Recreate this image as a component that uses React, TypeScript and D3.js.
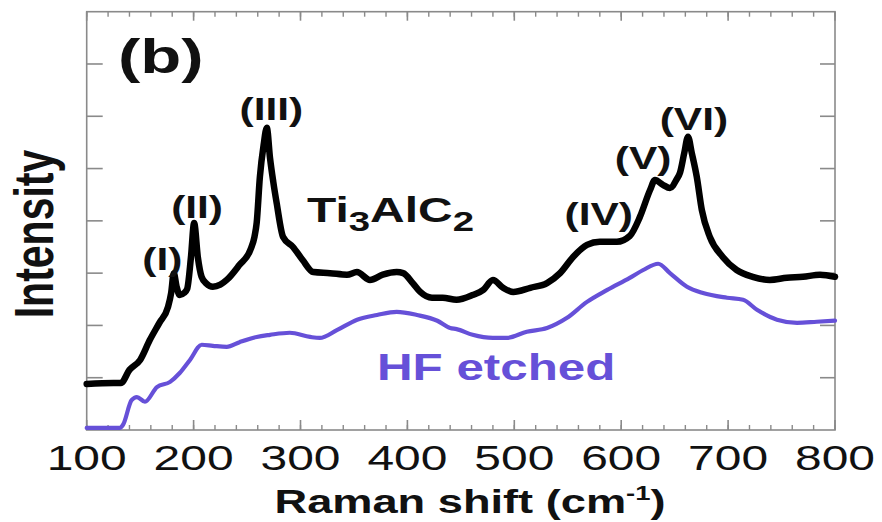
import React from "react";
import * as d3 from "d3";

// Raman spectrum of pristine Ti3AlC2 (black trace)
const shiftTiAlC = [
  100, 125, 132, 140, 150, 159, 168, 176, 179, 181.5, 184, 187, 191, 194, 197.5, 200.5, 204, 207.5, 212, 218,
  225, 231, 243, 253, 257, 259, 262, 265.5, 268.5, 271.5, 274.5, 277.7, 283.7, 293, 302, 312, 327.6, 343.5,
  352.8, 365, 377, 390, 396, 405, 412, 423, 433, 446, 461, 471, 480, 489.5, 499, 515, 530.6, 542.8, 555, 568,
  580, 596, 608, 617.6, 627, 631.6, 639, 645.6, 652, 655, 659, 662.5, 666, 670.7, 675.4, 683, 695, 708, 723,
  739, 755, 770, 786, 800,
];
const intensityTiAlC = [
  0.88, 0.9, 0.9, 1.15, 1.34, 1.72, 2.05, 2.35, 2.62, 3.0, 2.75, 2.58, 2.62, 2.7, 3.3, 3.96, 3.3, 2.93, 2.8, 2.74,
  2.78, 2.87, 3.16, 3.44, 3.7, 3.96, 4.84, 5.45, 5.78, 5.2, 4.75, 4.34, 3.69, 3.5, 3.25, 3.02, 3.0, 2.97,
  3.02, 2.87, 2.97, 3.02, 3.0, 2.81, 2.64, 2.53, 2.53, 2.49, 2.58, 2.68, 2.87, 2.72, 2.64, 2.72, 2.81, 3.0, 3.31, 3.54,
  3.6, 3.6, 3.71, 4.08, 4.59, 4.78, 4.69, 4.63, 4.8, 4.92, 5.3, 5.61, 5.3, 4.84, 4.21, 3.69, 3.31, 3.06, 2.93,
  2.87, 2.91, 2.93, 2.97, 2.93,
];

// Raman spectrum after HF etching (blue trace)
const shiftHF = [
  100, 131, 134, 142, 147, 154.5, 165.7, 178, 187, 196.6, 207.6, 218, 231, 243, 259, 271.5, 290, 309, 318, 334,
  353, 371.6, 390, 409, 428, 440, 446, 461, 480, 492.7, 511.7, 530.6, 549, 568, 587, 608, 620.6, 634.6, 645.6,
  661.5, 676.5, 699, 714, 727, 745.7, 764.5, 783, 800,
];
const intensityHF = [
  0.04, 0.04, 0.1, 0.57, 0.63, 0.54, 0.82, 0.92, 1.09, 1.34, 1.63, 1.61, 1.59, 1.68, 1.78, 1.82, 1.86, 1.78, 1.76, 1.91,
  2.11, 2.2, 2.26, 2.2, 2.09, 1.95, 1.93, 1.82, 1.76, 1.76, 1.88, 1.95, 2.14, 2.45, 2.68, 2.91, 3.06, 3.18, 3.0,
  2.74, 2.62, 2.53, 2.49, 2.3, 2.11, 2.05, 2.07, 2.09,
];

const xMajorTicks = [100, 200, 300, 400, 500, 600, 700, 800];
const xMinorTicks = d3.range(100, 801, 20);
const yTicks = [1, 2, 3, 4, 5, 6, 7];

// Peak labels: text, left edge in cm-1, baseline in intensity units
const peakLabels = ["(I)", "(II)", "(III)", "(IV)", "(V)", "(VI)"];
const peakLabelShift = [152, 179, 243, 547, 594, 636];
const peakLabelLevel = [3.06, 4.06, 5.93, 3.92, 5.0, 5.74];

const W = 882;
const H = 522;
const left = 86.7;
const right = 835;
const top = 11.7;
const bottom = 430;
const SX = 1.37; // horizontal glyph stretch
const FONT = "'Liberation Sans', Arial, Helvetica, sans-serif";
const BLUE = "#6650d8";
const AXIS = "#8a8a8a";

export default function App() {
  const x = d3.scaleLinear().domain([100, 800]).range([left, right]);
  const y = d3.scaleLinear().domain([0, 8]).range([bottom, top]);

  const line = d3
    .line<[number, number]>()
    .x((d) => x(d[0]))
    .y((d) => y(d[1]))
    .curve(d3.curveMonotoneX);

  const blackPts = shiftTiAlC.map((s, i) => [s, intensityTiAlC[i]] as [number, number]);
  const bluePts = shiftHF.map((s, i) => [s, intensityHF[i]] as [number, number]);

  const stretched = (px: number, py: number) => `translate(${px},${py}) scale(${SX},1)`;

  return (
    <svg
      width={W}
      height={H}
      style={{ position: "absolute", left: 0, top: 0, background: "#fff" }}
      fontFamily={FONT}
    >
      <rect width={W} height={H} fill="#fff" />

      {/* frame */}
      <rect x={left} y={top} width={right - left} height={bottom - top} fill="none" stroke={AXIS} strokeWidth={1.6} />

      {/* x minor ticks, bottom and top */}
      {xMinorTicks.map((t) => (
        <g key={"mn" + t} stroke={AXIS} strokeWidth={1.4}>
          <line x1={x(t)} x2={x(t)} y1={bottom} y2={bottom - 5} />
          <line x1={x(t)} x2={x(t)} y1={top} y2={top + 5} />
        </g>
      ))}
      {/* x major ticks */}
      {xMajorTicks.map((t) => (
        <g key={"mj" + t} stroke={AXIS} strokeWidth={1.6}>
          <line x1={x(t)} x2={x(t)} y1={bottom} y2={bottom - 10} />
          <line x1={x(t)} x2={x(t)} y1={top} y2={top + 9} />
        </g>
      ))}
      {/* y ticks, left and right */}
      {yTicks.map((t) => (
        <g key={"y" + t} stroke={AXIS} strokeWidth={1.6}>
          <line x1={left} x2={left + 16} y1={y(t)} y2={y(t)} />
          <line x1={right} x2={right - 15} y1={y(t)} y2={y(t)} />
        </g>
      ))}

      {/* spectra */}
      <path d={line(bluePts) || ""} fill="none" stroke={BLUE} strokeWidth={4.2} strokeLinejoin="round" strokeLinecap="round" />
      <path d={line(blackPts) || ""} fill="none" stroke="#000" strokeWidth={6.5} strokeLinejoin="round" strokeLinecap="round" />

      {/* x tick labels */}
      {xMajorTicks.map((t) => (
        <text key={"lbl" + t} transform={stretched(x(t), 470)} textAnchor="middle" fontSize={35} fill="#111">
          {t}
        </text>
      ))}

      {/* axis titles */}
      <text transform={stretched(470, 513)} textAnchor="middle" fontSize={33} fontWeight="bold" fill="#111">
        Raman shift (cm
        <tspan fontSize={20} dy={-13}>-1</tspan>
        <tspan dy={13}>)</tspan>
      </text>
      <text
        transform={`translate(53,234) rotate(-90) scale(1,${SX})`}
        textAnchor="middle"
        fontSize={41}
        fontWeight="bold"
        fill="#111"
      >
        Intensity
      </text>

      {/* panel letter */}
      <text transform={stretched(118, 73)} fontSize={49} fontWeight="bold" fill="#111">
        (b)
      </text>

      {/* peak labels */}
      {peakLabels.map((p, i) => (
        <text
          key={p}
          transform={stretched(x(peakLabelShift[i]), y(peakLabelLevel[i]))}
          fontSize={31}
          fontWeight="bold"
          fill="#111"
        >
          {p}
        </text>
      ))}

      {/* sample names */}
      <text transform={stretched(307, 222)} fontSize={35} fontWeight="bold" fill="#111">
        Ti
        <tspan fontSize={28} dy={9}>3</tspan>
        <tspan dy={-9}>AlC</tspan>
        <tspan fontSize={28} dy={9}>2</tspan>
      </text>
      <text transform={stretched(377, 380)} fontSize={36} fontWeight="bold" fill={BLUE}>
        HF etched
      </text>
    </svg>
  );
}
